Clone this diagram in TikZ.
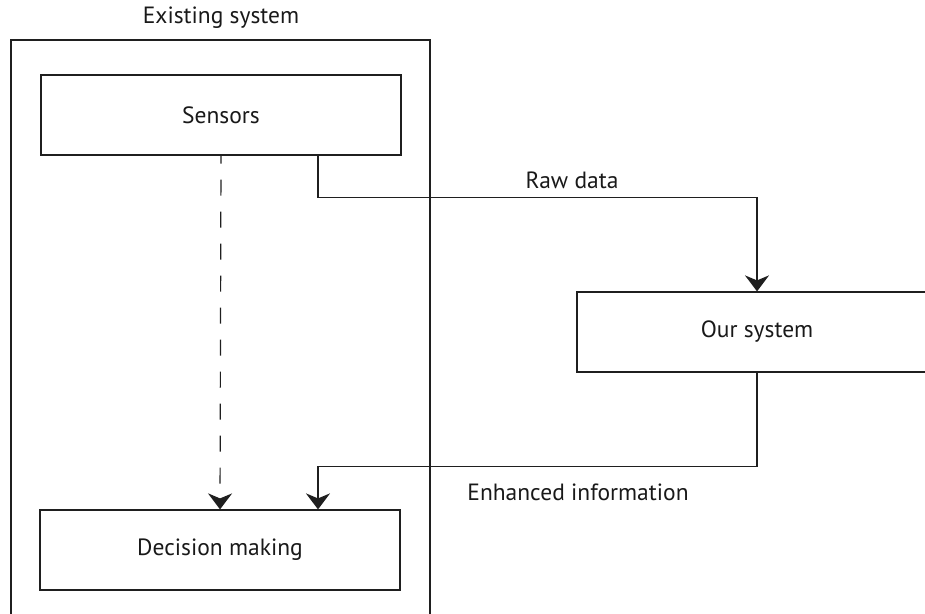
\documentclass[tikz,border=0pt]{standalone}
\usepackage{fontspec}
\setmainfont{PT Sans}
\usetikzlibrary{arrows.meta,calc}
\begin{document}
\begin{tikzpicture}[x=1pt,y=1pt,
  line/.style={draw=black!88,line width=1.2pt},
  txt/.style={font=\fontsize{23.5}{28}\selectfont,text=black!90},
  box/.style={line,txt,rectangle,minimum width=360pt,minimum height=80pt,inner sep=0pt},
  lbl/.style={txt,inner sep=0pt},
  tip/.style={-{Stealth[length=16pt,width=24pt,inset=5pt]}}
]
\useasboundingbox (0,0) rectangle (925,-613);
\clip (0,0) rectangle (925,-613);

% container for the existing system
\draw[line] (11,-620) -- (11,-40) -- (430,-40) -- (430,-620);
\node[lbl] (title) at (221,-18) {Existing system};

% blocks
\node[box] (sensors) at (221,-115) {Sensors};
\node[box] (decision) at (220,-550) {Decision making};
\node[box] (ours) at (757,-332) {Our system};

% direct (dashed) path
\draw[line,tip,dash pattern=on 16pt off 16pt,dash phase=8pt] (sensors.south) -- (decision.north);

% raw data to our system
\coordinate (rawstart) at ($(sensors.south)+(97,0)$);
\draw[line,tip] (rawstart) -- ++(0,-42) -| (ours.north);
\node[lbl] (raw) at (572,-180) {Raw data};

% enhanced information back to decision making
\coordinate (enhend) at ($(decision.north)+(98,0)$);
\draw[line,tip] (ours.south) -- ++(0,-94) -| (enhend);
\node[lbl] (enh) at (578,-492) {Enhanced information};
\end{tikzpicture}
\end{document}
